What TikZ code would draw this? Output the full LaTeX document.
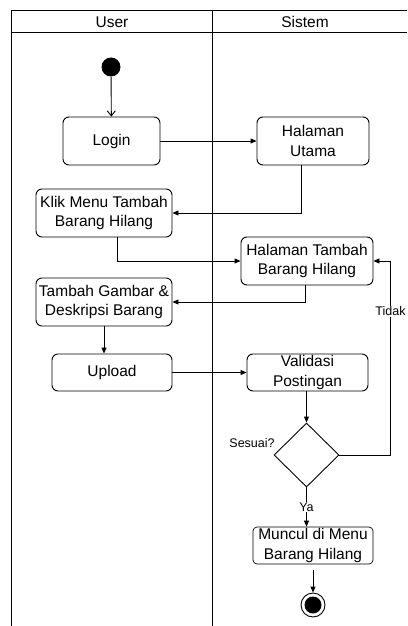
\documentclass[tikz,border=0pt]{standalone}
\usepackage{fontspec}
\setmainfont{Liberation Sans}
\usetikzlibrary{arrows.meta,shapes.geometric}
\begin{document}
\begin{tikzpicture}[x=1pt,y=-1pt,
  font=\fontsize{15.5}{19.5}\selectfont,
  line width=0.9pt,
  lane/.style={line width=1pt},
  act/.style={draw,rounded corners=6pt,align=center,inner sep=0pt},
  flow/.style={-{Triangle[length=6pt,width=5pt]}},
  openflow/.style={-{Straight Barb[length=5pt,width=8pt]}},
  guard/.style={font=\fontsize{12.5}{15}\selectfont,fill=white,inner sep=1pt}]
\useasboundingbox (0,0) rectangle (407,626);

% swimlane frame
\draw[lane] (407,11) -- (11,11) -- (11,626);
\draw[lane] (11,33) -- (407,33);
\draw[lane] (212,11) -- (212,626);
\node (huser) at (112,22) {User};
\node (hsys) at (305,22) {Sistem};

% activities
\node[circle,fill=black,minimum size=19pt,inner sep=0pt] (start) at (111,67) {};
\node[act,minimum width=97pt,minimum height=48pt] (login) at (111.5,141) {Login};
\node[act,minimum width=112pt,minimum height=48pt] (utama) at (313,141) {Halaman\\Utama};
\node[act,minimum width=136pt,minimum height=48pt] (klik) at (104,213) {Klik Menu Tambah\\Barang Hilang};
\node[act,minimum width=132pt,minimum height=48pt] (tambah) at (307,261) {Halaman Tambah\\Barang Hilang};
\node[act,minimum width=136pt,minimum height=48pt] (gambar) at (104,302) {Tambah Gambar \&\\Deskripsi Barang};
\node[act,minimum width=120pt,minimum height=37pt] (upload) at (112,372.5) {Upload};
\node[act,minimum width=121pt,minimum height=37pt] (validasi) at (307.5,372.5) {Validasi\\Postingan};
\node[diamond,draw,minimum width=65pt,minimum height=64pt,inner sep=0pt] (dec) at (306.5,455) {};
\node[guard,fill=none] (sesuai) at (252,443) {Sesuai?};
\node[act,minimum width=120pt,minimum height=37pt,rounded corners=4pt,line width=0.7pt] (muncul) at (313,545.5) {Muncul di Menu\\Barang Hilang};
\node[circle,draw,minimum size=24pt,inner sep=0pt] (final) at (313,605) {};
\node[circle,fill=black,minimum size=17pt,inner sep=0pt] at (final) {};

% control flow
\draw[openflow] (start) -- (login);
\draw[flow] (login.east) -- (utama.west);
\draw[flow] ([xshift=-12pt]utama.south) |- (klik.east);
\draw[flow] ([xshift=13pt]klik.south) |- (tambah.west);
\draw[flow] ([xshift=-2pt]tambah.south) |- (gambar.east);
\draw[flow] (gambar.south) -- (gambar.south |- upload.north);
\draw[flow] (upload.east) -- (validasi.west);
\draw[flow] (dec.north |- validasi.south) -- (dec.north);
\draw[flow] (dec.east) -| ([xshift=17pt]tambah.east)
  node[guard,pos=0.87] {Tidak} -- (tambah.east);
\draw[flow] (dec.south) -- node[guard] {Ya} (dec.south |- muncul.north);
\draw[flow] ([yshift=-6pt]muncul.south) -- (final.north);
\end{tikzpicture}
\end{document}
